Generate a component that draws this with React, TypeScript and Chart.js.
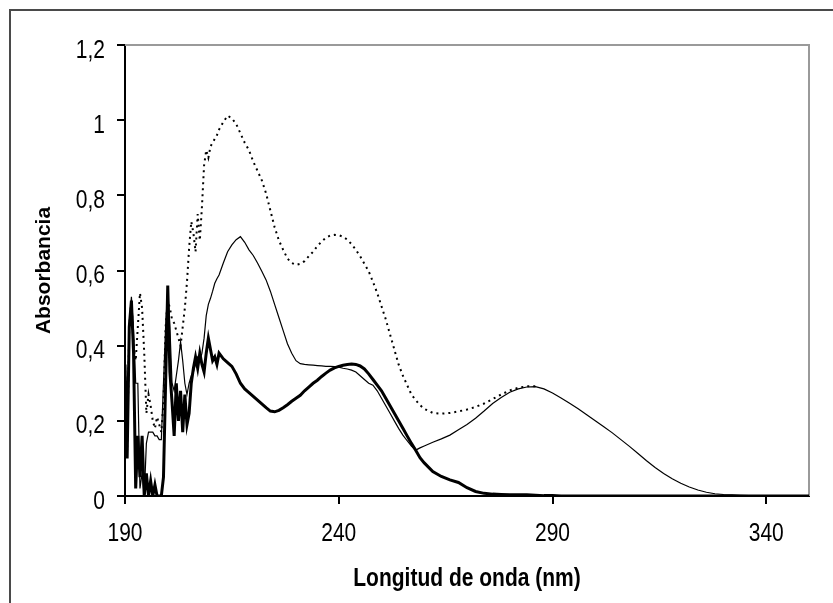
import React, { useEffect, useRef } from 'react';
import { Chart, registerables } from 'chart.js';

Chart.register(...registerables);

// Wavelength (nm) sample positions
const wavelengths = [
  190, 190.5, 191, 191.5, 192, 192.5, 193, 193.5, 194, 194.5,
  195, 195.5, 196, 196.5, 197, 197.5, 198, 198.5, 199, 199.5,
  200, 200.5, 201, 201.5, 202, 202.5, 203, 203.5, 204, 204.5,
  205, 205.5, 206, 206.5, 207, 207.5, 208, 208.5, 209, 209.5,
  210, 210.5, 211, 211.5, 212,
  213, 214, 215, 216, 217, 218, 219, 220, 221, 222,
  223, 224, 225, 226, 227, 228, 229, 230, 231, 232,
  233, 234, 235, 236, 237, 238, 239, 240, 241, 242,
  243, 244, 245, 246, 247, 248, 249, 250, 251, 252,
  253, 254, 255, 256, 257, 258, 259, 260,
  262, 264, 266, 268, 270, 272, 274, 276, 278, 280,
  282, 284, 286, 288, 290, 292, 294, 296, 298, 300,
  302, 304, 306, 308, 310, 312, 314, 316, 318, 320,
  322, 324, 326, 328, 330, 332, 334, 336, 338, 340,
  342, 344, 346, 348, 350,
];

// Thick solid spectrum
const thickSeries = [
  0.35, 0.10, 0.45, 0.52, 0.38, 0.02, 0.16, 0.05, 0.16, 0.00,
  0.06, 0.00, 0.04, 0.00, 0.03, 0.00, 0.00, 0.00, 0.05, 0.30,
  0.56, 0.33, 0.25, 0.16, 0.30, 0.20, 0.28, 0.17, 0.27, 0.19,
  0.22, 0.30, 0.34, 0.37, 0.34, 0.38, 0.35, 0.33, 0.38, 0.42,
  0.39, 0.36, 0.37, 0.35, 0.38,
  0.365, 0.355, 0.345, 0.325, 0.30, 0.285, 0.275, 0.265, 0.255, 0.245,
  0.235, 0.226, 0.224, 0.228, 0.235, 0.243, 0.252, 0.26, 0.268, 0.28,
  0.29, 0.30, 0.308, 0.318, 0.327, 0.335, 0.341, 0.345, 0.348, 0.35,
  0.351, 0.35, 0.346, 0.338, 0.325, 0.31, 0.295, 0.28, 0.26, 0.24,
  0.22, 0.20, 0.18, 0.16, 0.14, 0.122, 0.102, 0.088,
  0.065, 0.052, 0.043, 0.036, 0.022, 0.012, 0.007, 0.005, 0.004, 0.003,
  0.003, 0.003, 0.002, 0.001, 0.001, 0, 0, 0, 0, 0,
  0, 0, 0, 0, 0, 0, 0, 0, 0, 0,
  0, 0, 0, 0, 0, 0, 0, 0, 0, 0,
  0, 0, 0, 0, 0,
];

// Thin solid spectrum
const thinSeries = [
  0.35, 0.12, 0.46, 0.53, 0.44, 0.30, 0.30, 0.02, 0.06, 0.00,
  0.14, 0.17, 0.17, 0.17, 0.16, 0.16, 0.15, 0.15, 0.30, 0.45,
  0.55, 0.45, 0.30, 0.28, 0.32, 0.36, 0.41, 0.36, 0.30, 0.27,
  0.30, 0.32, 0.33, 0.35, 0.37, 0.36, 0.38, 0.42, 0.48, 0.51,
  0.526, 0.545, 0.566, 0.578, 0.588,
  0.62, 0.65, 0.668, 0.682, 0.69, 0.675, 0.655, 0.64, 0.62, 0.598,
  0.575, 0.545, 0.51, 0.475, 0.44, 0.405, 0.38, 0.36, 0.352, 0.35,
  0.349, 0.348, 0.347, 0.346, 0.345, 0.345, 0.344, 0.343, 0.34, 0.338,
  0.335, 0.33, 0.32, 0.31, 0.30, 0.295, 0.28, 0.26, 0.24, 0.22,
  0.20, 0.18, 0.162, 0.147, 0.133, 0.122, 0.128, 0.133,
  0.143, 0.152, 0.162, 0.176, 0.19, 0.207, 0.226, 0.246, 0.262, 0.276,
  0.285, 0.29, 0.291, 0.285, 0.274, 0.261, 0.247, 0.232, 0.216, 0.20,
  0.184, 0.168, 0.15, 0.132, 0.113, 0.094, 0.076, 0.06, 0.046, 0.034,
  0.024, 0.016, 0.01, 0.006, 0.004, 0.003, 0.002, 0.001, 0.001, 0,
  0, 0, 0, 0, 0,
];

// Dotted spectrum (beyond ~286 nm it lies under the thin curve)
const dottedSeries = [
  0.35, 0.12, 0.45, 0.52, 0.40, 0.36, 0.45, 0.54, 0.50, 0.38,
  0.22, 0.27, 0.24, 0.20, 0.18, 0.21, 0.19, 0.17, 0.25, 0.45,
  0.52, 0.50, 0.47, 0.46, 0.44, 0.42, 0.40, 0.45, 0.50, 0.57,
  0.66, 0.73, 0.70, 0.65, 0.75, 0.68, 0.77, 0.88, 0.92, 0.90,
  0.93, 0.94, 0.95, 0.96, 0.975,
  0.995, 1.012, 1.005, 0.99, 0.965, 0.94, 0.92, 0.89, 0.865, 0.84,
  0.805, 0.76, 0.715, 0.68, 0.655, 0.632, 0.62, 0.615, 0.618, 0.625,
  0.638, 0.65, 0.665, 0.677, 0.687, 0.693, 0.695, 0.694, 0.69, 0.682,
  0.67, 0.655, 0.638, 0.618, 0.598, 0.57, 0.54, 0.505, 0.47, 0.43,
  0.39, 0.35, 0.32, 0.295, 0.27, 0.255, 0.242, 0.232,
  0.221, 0.219, 0.221, 0.225, 0.23, 0.237, 0.246, 0.258, 0.27, 0.281,
  0.288, 0.292, 0.292, null, null, null, null, null, null, null,
  null, null, null, null, null, null, null, null, null, null,
  null, null, null, null, null, null, null, null, null, null,
  null, null, null, null, null,
];

const xTickValues = [190, 240, 290, 340];
const yTickValues = [0, 0.2, 0.4, 0.6, 0.8, 1, 1.2];
const xTitle = 'Longitud de onda (nm)';
const yTitle = 'Absorbancia';

const REGULAR = "'Liberation Sans', Arial, sans-serif";
const fmtY = (v: number) => String(Math.round(v * 10) / 10).replace('.', ',');

export default function App() {
  const ref = useRef<HTMLCanvasElement>(null);

  useEffect(() => {
    document.body.style.margin = '0';
    const canvas = ref.current;
    if (!canvas) return;
    const pts = (vals: (number | null)[]) => wavelengths.map((x, i) => ({ x, y: vals[i] }));

    const framePlugin = {
      id: 'frames',
      beforeDraw(chart: any) {
        const c = chart.ctx;
        c.save();
        c.fillStyle = '#ffffff';
        c.fillRect(0, 0, chart.width, chart.height);
        c.strokeStyle = '#4a4a4a';
        c.lineWidth = 2;
        c.beginPath();
        c.moveTo(10, chart.height + 2);
        c.lineTo(10, 10);
        c.lineTo(chart.width + 2, 10);
        c.stroke();
        c.restore();
      },
      beforeDatasetsDraw(chart: any) {
        const { left, top, right, bottom } = chart.chartArea;
        const c = chart.ctx;
        c.save();
        c.strokeStyle = '#9a9a9a';
        c.lineWidth = 2;
        c.beginPath();
        c.moveTo(left, top);
        c.lineTo(right, top);
        c.lineTo(right, bottom);
        c.stroke();
        c.restore();
      },
    };

    // Tick labels and x title in a vertically stretched Arial-like face
    const labelPlugin = {
      id: 'stretchedLabels',
      afterDraw(chart: any) {
        const c = chart.ctx;
        const xs = chart.scales.x;
        const ys = chart.scales.y;
        const stretch = 1.2;
        c.save();
        c.fillStyle = '#000';
        c.font = `21px ${REGULAR}`;
        c.textBaseline = 'alphabetic';
        c.textAlign = 'center';
        const labelBase = xs.top + 45;
        for (const v of xTickValues) {
          const px = xs.getPixelForValue(v);
          c.save();
          c.translate(px, labelBase);
          c.scale(1, stretch);
          c.fillText(String(v), 0, 0);
          c.restore();
        }
        c.textAlign = 'right';
        const labelRight = ys.right - 20;
        for (const v of yTickValues) {
          const py = ys.getPixelForValue(v);
          c.save();
          c.translate(labelRight, py + 12.5);
          c.scale(1, stretch);
          c.fillText(fmtY(v), 0, 0);
          c.restore();
        }
        c.font = `bold 21px ${REGULAR}`;
        c.textAlign = 'center';
        c.save();
        c.translate((chart.chartArea.left + chart.chartArea.right) / 2, xs.top + 90);
        c.scale(1, stretch);
        c.fillText(xTitle, 0, 0);
        c.restore();
        c.restore();
      },
    };

    const chart = new Chart(canvas, {
      type: 'line',
      data: {
        datasets: [
          {
            data: pts(thickSeries),
            borderColor: '#000',
            borderWidth: 3,
            pointRadius: 0,
            tension: 0,
          },
          {
            data: pts(thinSeries),
            borderColor: '#000',
            borderWidth: 1.2,
            pointRadius: 0,
            tension: 0,
          },
          {
            data: pts(dottedSeries),
            borderColor: '#000',
            borderWidth: 2,
            borderDash: [2, 4],
            pointRadius: 0,
            tension: 0,
            spanGaps: false,
          },
        ],
      },
      options: {
        animation: false,
        responsive: false,
        layout: { padding: { left: 0, top: 45, right: 24, bottom: 0 } },
        plugins: { legend: { display: false }, tooltip: { enabled: false } },
        scales: {
          x: {
            type: 'linear',
            min: 190,
            max: 350,
            afterBuildTicks: (s: any) => {
              s.ticks = xTickValues.map((v) => ({ value: v }));
            },
            afterFit: (s: any) => {
              s.height = 107;
            },
            border: { display: true, color: '#000', width: 2 },
            grid: { drawOnChartArea: false, drawTicks: true, tickLength: 8, color: '#000', lineWidth: 2 },
            ticks: { display: false },
            title: { display: false, text: xTitle },
          },
          y: {
            type: 'linear',
            min: 0,
            max: 1.2,
            afterBuildTicks: (s: any) => {
              s.ticks = yTickValues.map((v) => ({ value: v }));
            },
            afterFit: (s: any) => {
              s.width = 125;
            },
            border: { display: true, color: '#000', width: 2 },
            grid: { drawOnChartArea: false, drawTicks: true, tickLength: 8, color: '#000', lineWidth: 2 },
            ticks: { display: false },
            title: {
              display: true,
              text: yTitle,
              color: '#000',
              font: { family: REGULAR, size: 21, weight: 'bold' },
              padding: { top: 32, bottom: 0 },
            },
          },
        },
      },
      plugins: [framePlugin, labelPlugin],
    });

    return () => chart.destroy();
  }, []);

  return <canvas ref={ref} width={833} height={603} style={{ display: 'block' }} />;
}
